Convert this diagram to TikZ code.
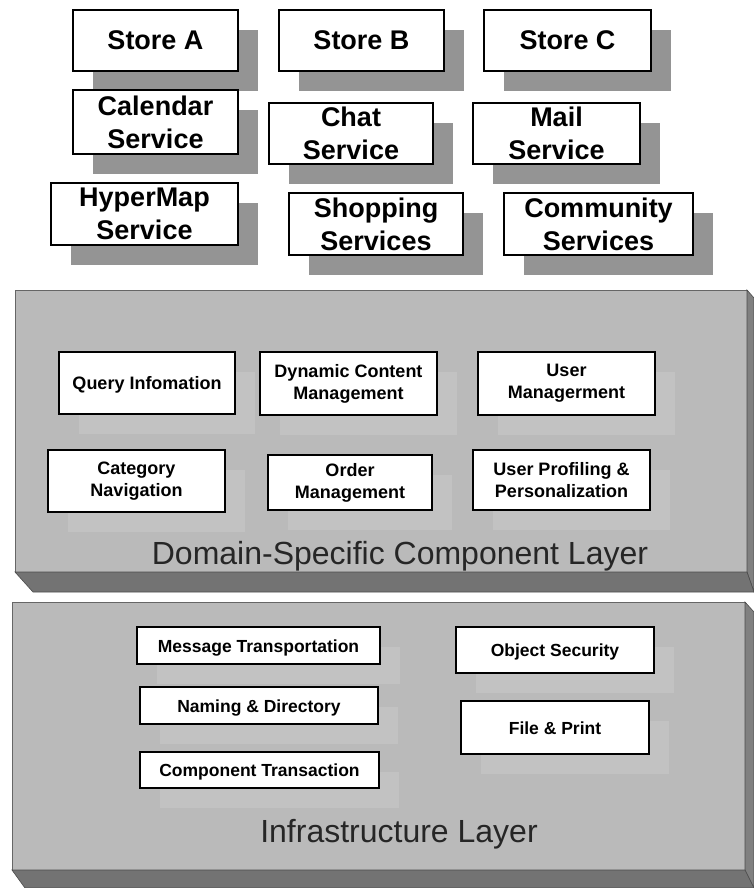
\documentclass[tikz,border=0pt]{standalone}
\usepackage{fontspec}
\setmainfont{Liberation Sans}
\usetikzlibrary{shadows}
\begin{document}
\begin{tikzpicture}[x=1pt,y=-1pt,
  svc node/.style={draw,fill=white,line width=1.6pt,inner sep=0pt,align=center,
    font=\bfseries\fontsize{27}{33}\selectfont,
    drop shadow={shadow xshift=20pt,shadow yshift=-20pt,fill=black!42,opacity=1}},
  comp node/.style={draw,fill=white,line width=1.4pt,inner sep=0pt,align=center,
    font=\bfseries\fontsize{18}{22}\selectfont,
    drop shadow={shadow xshift=20pt,shadow yshift=-20pt,fill=white,opacity=.13}},
  one line/.style={text height=13pt,text depth=0pt},
  infra node/.style={comp node,one line,font=\bfseries\fontsize{17.5}{21}\selectfont},
  layer face/.style={fill=black!27,draw=black!60,line width=.6pt},
  layer side/.style={fill=black!50,draw=black!70,line width=.6pt},
  layer bottom/.style={fill=black!55,draw=black!70,line width=.6pt},
  layer label/.style={anchor=base,font=\fontsize{32}{38}\selectfont,text=black!85}]

  \fill[white] (0,0) rectangle (754,888);
  \useasboundingbox (0,0) rectangle (754,888);

  \draw[layer face] (15,290) rectangle (747,572);
  \draw[layer side] (747,290) -- (754,298) -- (754,592) -- (747,572) -- cycle;
  \draw[layer bottom] (15,572) -- (747,572) -- (754,592) -- (33,592) -- cycle;

  \draw[layer face] (12,602) rectangle (745,870);
  \draw[layer side] (745,602) -- (754,612) -- (754,888) -- (745,870) -- cycle;
  \draw[layer bottom] (12,870) -- (745,870) -- (754,888) -- (25,888) -- cycle;

  \node[svc node,minimum width=165pt,minimum height=61pt] (1) at (155.5,40.5) {Store A};
  \node[svc node,minimum width=165pt,minimum height=64pt] (2) at (155.5,122) {Calendar\\Service};
  \node[svc node,minimum width=187pt,minimum height=62pt] (3) at (144.5,214) {HyperMap\\Service};
  \node[svc node,minimum width=165pt,minimum height=61pt] (4) at (361.5,40.5) {Store B};
  \node[svc node,minimum width=164pt,minimum height=61pt] (5) at (351,133.5) {Chat\\Service};
  \node[svc node,minimum width=174pt,minimum height=62pt] (6) at (376,224) {Shopping\\Services};
  \node[svc node,minimum width=167pt,minimum height=61pt] (7) at (567.5,40.5) {Store C};
  \node[svc node,minimum width=167pt,minimum height=61pt] (8) at (556.5,133.5) {Mail\\Service};
  \node[svc node,minimum width=189pt,minimum height=62pt] (9) at (598.5,224) {Community\\Services};

  \node[comp node,one line,minimum width=176pt,minimum height=62pt] (10) at (147,383) {Query Infomation};
  \node[comp node,minimum width=177pt,minimum height=63pt] (11) at (348.5,383.5) {Dynamic Content\\Management};
  \node[comp node,minimum width=177pt,minimum height=63pt] (12) at (566.5,383.5) {User\\Managerment};
  \node[comp node,minimum width=177pt,minimum height=62pt] (13) at (136.5,481) {Category\\Navigation};
  \node[comp node,minimum width=164pt,minimum height=55pt] (14) at (350,482.5) {Order\\Management};
  \node[comp node,minimum width=177pt,minimum height=60pt] (15) at (561.5,480) {User Profiling \&\\Personalization};
  \node[layer label] (16) at (400,564) {Domain-Specific Component Layer};

  \node[infra node,minimum width=243pt,minimum height=37pt] (17) at (258.5,645.5) {Message Transportation};
  \node[infra node,minimum width=238pt,minimum height=37pt] (18) at (259,705.5) {Naming \& Directory};
  \node[infra node,minimum width=239pt,minimum height=36pt] (19) at (259.5,770) {Component Transaction};
  \node[infra node,minimum width=198pt,minimum height=46pt] (20) at (555,650) {Object Security};
  \node[infra node,minimum width=188pt,minimum height=53pt] (21) at (555,727.5) {File \& Print};
  \node[layer label] (22) at (399,842) {Infrastructure Layer};
\end{tikzpicture}
\end{document}
